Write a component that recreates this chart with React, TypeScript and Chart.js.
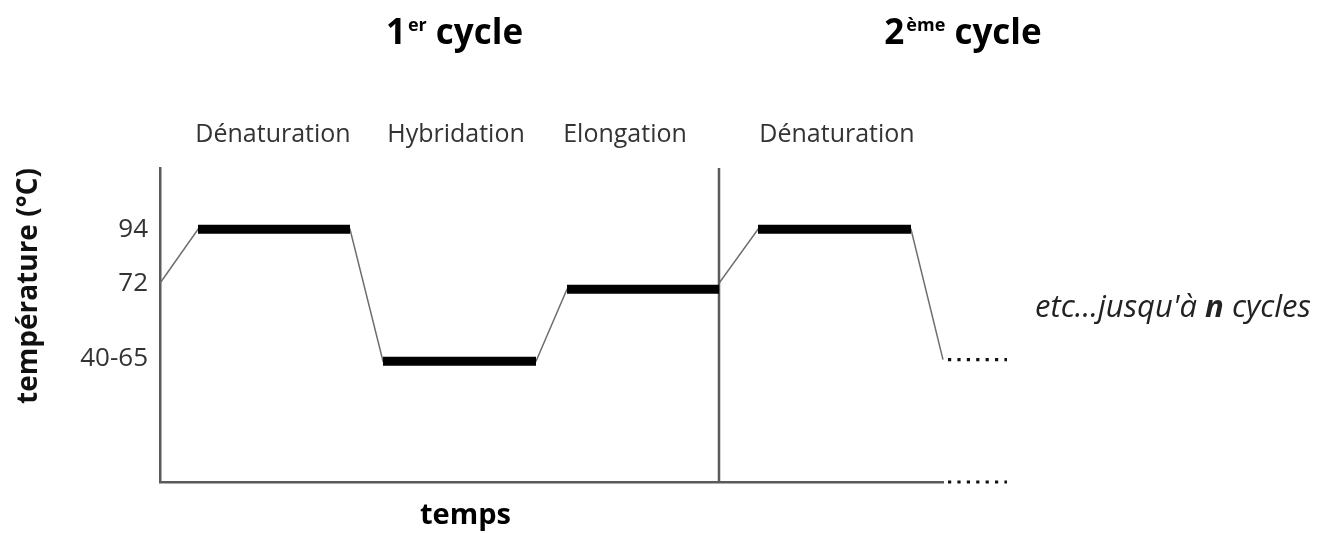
import { useEffect, useRef } from "react";
import { Chart, registerables } from "chart.js";

Chart.register(...registerables);

// ---- Data (time in arbitrary units, temperature in schematic °C) ----
const profileTime = [0, 38, 190, 223, 376, 407, 559, 559, 598, 751, 783];
const profileTemp = [72, 94, 94, 40.2, 40.2, 69.6, 69.6, 72, 94, 94, 40.9];

const plateauStart = [38, 223, 407, 598];
const plateauEnd = [190, 376, 559, 751];
const plateauTemp = [94, 40.2, 69.6, 94];

const cycleBoundary = 559;
const continuationTime = [788, 847];
const continuationTemp = 40.9;

const tickValues = [94, 72, 41.3];
const tickLabels = ["94", "72", "40-65"];

const phaseLabels = ["Dénaturation", "Hybridation", "Elongation", "Dénaturation"];
const phaseCenters = [113, 296, 465, 677];

const cycleNumbers = ["1", "2"];
const cycleSuffixes = ["er", "ème"];
const cycleCenters = [294.5, 803];

const xTitle = "temps";
const xTitleCenter = 305.5;
const yTitle = "température (°C)";
const noteParts = ["etc...jusqu'à ", "n", " cycles"];
const noteStart = 875;

const X_MIN = 0;
const X_MAX = 783;
const Y_MIN = -9;
const Y_MAX = 119;

const FONT = '"Open Sans", "DejaVu Sans", sans-serif';

const textPlugin = {
  id: "pcrText",
  afterDraw(chart: any) {
    const { ctx } = chart;
    const x = chart.scales.x;
    ctx.save();
    ctx.textBaseline = "alphabetic";

    // phase labels
    ctx.font = `25px ${FONT}`;
    ctx.fillStyle = "#333";
    ctx.textAlign = "center";
    phaseLabels.forEach((t, i) => {
      ctx.fillText(t, x.getPixelForValue(phaseCenters[i]), 142);
    });

    // cycle titles with superscript
    const big = `bold 35px ${FONT}`;
    const small = `bold 18px ${FONT}`;
    ctx.fillStyle = "#000";
    ctx.textAlign = "left";
    cycleNumbers.forEach((num, i) => {
      const sup = cycleSuffixes[i];
      ctx.font = big;
      const wNum = ctx.measureText(num).width;
      const wWord = ctx.measureText(" cycle").width;
      ctx.font = small;
      const wSup = ctx.measureText(sup).width;
      const total = wNum + 2 + wSup + wWord;
      let px = x.getPixelForValue(cycleCenters[i]) - total / 2;
      const base = 44;
      ctx.font = big;
      ctx.fillText(num, px, base);
      px += wNum + 2;
      ctx.font = small;
      ctx.fillText(sup, px, base - 13);
      px += wSup;
      ctx.font = big;
      ctx.fillText(" cycle", px, base);
    });

    // x title
    ctx.font = `bold 29px ${FONT}`;
    ctx.textAlign = "center";
    ctx.fillStyle = "#000";
    ctx.fillText(xTitle, x.getPixelForValue(xTitleCenter), 524);

    // note
    ctx.textAlign = "left";
    ctx.fillStyle = "#222";
    let nx = x.getPixelForValue(noteStart);
    const fonts = [`italic 31px ${FONT}`, `italic bold 31px ${FONT}`, `italic 31px ${FONT}`];
    noteParts.forEach((p, i) => {
      ctx.font = fonts[i];
      ctx.fillText(p, nx, 317);
      nx += ctx.measureText(p).width;
    });
    ctx.restore();
  },
};

export default function App() {
  const ref = useRef<HTMLCanvasElement | null>(null);

  useEffect(() => {
    if (!ref.current) return;
    const pts = (xs: number[], ys: number[]) => xs.map((t, i) => ({ x: t, y: ys[i] }));

    const datasets: any[] = [
      {
        label: "profile",
        data: pts(profileTime, profileTemp),
        borderColor: "#6e6e6e",
        borderWidth: 1.5,
        pointRadius: 0,
        tension: 0,
        clip: false,
        order: 10,
      },
      ...plateauStart.map((s, i) => ({
        label: "plateau" + i,
        data: [
          { x: s, y: plateauTemp[i] },
          { x: plateauEnd[i], y: plateauTemp[i] },
        ],
        borderColor: "#000",
        borderWidth: 9,
        borderCapStyle: "butt",
        pointRadius: 0,
        order: 1,
      })),
      {
        label: "boundary",
        data: [
          { x: cycleBoundary, y: Y_MIN },
          { x: cycleBoundary, y: Y_MAX },
        ],
        borderColor: "#5a5a5a",
        borderWidth: 2.5,
        pointRadius: 0,
        order: 5,
      },
      {
        label: "contLevel",
        data: [
          { x: continuationTime[0], y: continuationTemp },
          { x: continuationTime[1], y: continuationTemp },
        ],
        borderColor: "#111",
        borderWidth: 3.2,
        borderDash: [3.2, 6.2],
        borderCapStyle: "butt",
        pointRadius: 0,
        clip: false,
        order: 2,
      },
      {
        label: "contAxis",
        data: [
          { x: continuationTime[0], y: Y_MIN },
          { x: continuationTime[1], y: Y_MIN },
        ],
        borderColor: "#111",
        borderWidth: 3.2,
        borderDash: [3.2, 6.2],
        borderCapStyle: "butt",
        pointRadius: 0,
        clip: false,
        order: 2,
      },
    ];

    const chart = new Chart(ref.current, {
      type: "line",
      data: { datasets },
      plugins: [textPlugin],
      options: {
        animation: false,
        responsive: false,
        events: [],
        layout: { padding: { top: 168, right: 375, bottom: 51, left: 0 } },
        plugins: { legend: { display: false }, tooltip: { enabled: false } },
        scales: {
          x: {
            type: "linear",
            min: X_MIN,
            max: X_MAX,
            grid: { display: false, drawTicks: false },
            ticks: { display: false },
            border: { display: true, color: "#5a5a5a", width: 2.5 },
            afterFit: (s: any) => {
              s.height = 0;
            },
          },
          y: {
            type: "linear",
            position: "left",
            min: Y_MIN,
            max: Y_MAX,
            grid: { display: false, drawTicks: false },
            border: { display: true, color: "#5a5a5a", width: 2.5 },
            afterBuildTicks: (s: any) => {
              s.ticks = tickValues.map((v) => ({ value: v }));
            },
            ticks: {
              autoSkip: false,
              padding: 12,
              color: "#333",
              font: { family: FONT, size: 26 },
              callback: (v: any) => {
                const i = tickValues.indexOf(Number(v));
                return i >= 0 ? tickLabels[i] : "";
              },
            },
            title: {
              display: true,
              text: yTitle,
              align: "end",
              color: "#111",
              font: { family: FONT, size: 28, weight: "bold" },
              padding: { top: 12, bottom: 0 },
            },
            afterFit: (s: any) => {
              s.width = 160;
            },
          },
        },
      } as any,
    });
    return () => chart.destroy();
  }, []);

  return (
    <div style={{ position: "fixed", left: 0, top: 0, width: 1318, height: 533, background: "#fff" }}>
      <canvas ref={ref} width={1318} height={533} style={{ display: "block" }} />
    </div>
  );
}
